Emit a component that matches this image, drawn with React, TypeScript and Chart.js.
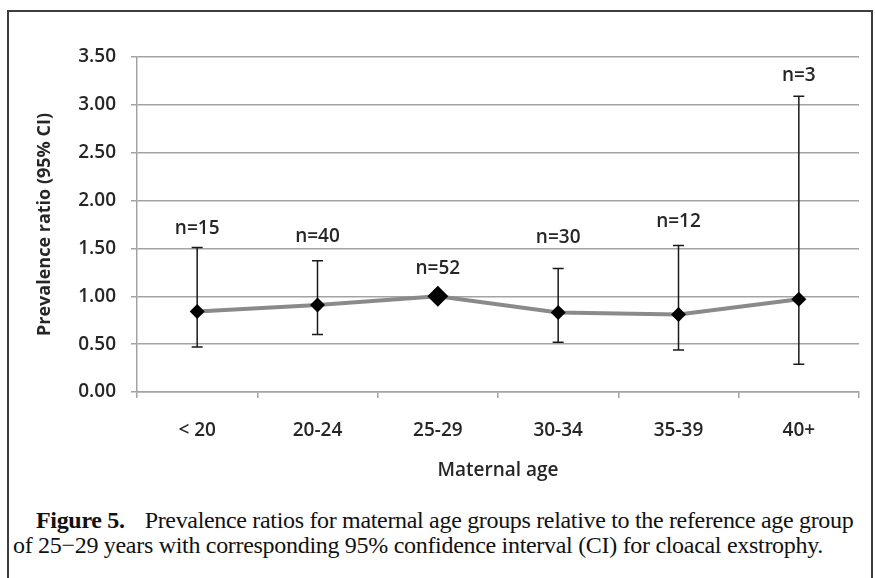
import React, { useEffect, useRef } from 'react';
import { Chart, registerables } from 'chart.js';

Chart.register(...registerables);

const categories = ['< 20', '20-24', '25-29', '30-34', '35-39', '40+'];
const ratios = [0.84, 0.91, 1.0, 0.83, 0.81, 0.97];
const ciLow: (number | null)[] = [0.47, 0.6, null, 0.52, 0.44, 0.29];
const ciHigh: (number | null)[] = [1.51, 1.37, null, 1.29, 1.53, 3.09];
const nLabels = ['n=15', 'n=40', 'n=52', 'n=30', 'n=12', 'n=3'];
const nLabelAt = [1.71, 1.62, 1.29, 1.61, 1.78, 3.31];
const yMin = 0;
const yMax = 3.5;
const yStep = 0.5;

const SANS = '"Open Sans", "Noto Sans", sans-serif';
const TEXT = '#262626';
const GRID = '#a3a3a3';
const W = 600;

const errorBarPlugin = {
  id: 'errorBarsAndLabels',
  beforeDatasetsDraw(chart: any) {
    const { ctx, scales } = chart;
    const x = scales.x;
    const y = scales.y;
    ctx.save();
    ctx.strokeStyle = '#1a1a1a';
    ctx.lineWidth = 1.5;
    categories.forEach((_, i) => {
      const lo = ciLow[i];
      const hi = ciHigh[i];
      if (lo == null || hi == null) return;
      const px = x.getPixelForValue(i);
      const yl = y.getPixelForValue(lo);
      const yh = y.getPixelForValue(hi);
      ctx.beginPath();
      ctx.moveTo(px, yl);
      ctx.lineTo(px, yh);
      ctx.moveTo(px - 5.5, yl);
      ctx.lineTo(px + 5.5, yl);
      ctx.moveTo(px - 5.5, yh);
      ctx.lineTo(px + 5.5, yh);
      ctx.stroke();
    });
    ctx.restore();
  },
  afterDatasetsDraw(chart: any) {
    const { ctx, scales } = chart;
    const x = scales.x;
    const y = scales.y;
    ctx.save();
    ctx.fillStyle = TEXT;
    ctx.font = `${W} 19px ${SANS}`;
    ctx.textAlign = 'center';
    ctx.textBaseline = 'middle';
    nLabels.forEach((t, i) => {
      ctx.fillText(t, x.getPixelForValue(i), y.getPixelForValue(nLabelAt[i]));
    });
    ctx.restore();
  },
};

function Caption() {
  const l1 = useRef<HTMLSpanElement>(null);
  const l2 = useRef<HTMLSpanElement>(null);
  useEffect(() => {
    const fit = (el: HTMLSpanElement | null, target: number) => {
      if (!el) return;
      el.style.letterSpacing = '0px';
      const w = el.getBoundingClientRect().width;
      const n = (el.textContent || '').length;
      el.style.letterSpacing = `${(target - w) / n}px`;
    };
    fit(l1.current, 817);
    fit(l2.current, 810);
  }, []);
  const base: React.CSSProperties = {
    position: 'absolute',
    fontFamily: '"Liberation Serif", "Times New Roman", serif',
    fontSize: 24,
    lineHeight: '24px',
    whiteSpace: 'nowrap',
    color: '#111',
  };
  return (
    <>
      <div style={{ ...base, left: 36, top: 508 }}>
        <span ref={l1} style={{ display: 'inline-block' }}>
          <b>Figure 5.</b>
          <span style={{ display: 'inline-block', width: 20 }}> </span>
          Prevalence ratios for maternal age groups relative to the reference age group
        </span>
      </div>
      <div style={{ ...base, left: 13, top: 533 }}>
        <span ref={l2} style={{ display: 'inline-block' }}>
          of 25−29 years with corresponding 95% confidence interval (CI) for cloacal exstrophy.
        </span>
      </div>
    </>
  );
}

export default function App() {
  const canvasRef = useRef<HTMLCanvasElement>(null);

  useEffect(() => {
    if (!canvasRef.current) return;
    const chart = new Chart(canvasRef.current, {
      type: 'line',
      data: {
        labels: categories,
        datasets: [
          {
            data: ratios,
            borderColor: '#8a8a8a',
            borderWidth: 4,
            pointStyle: 'rectRot',
            pointRadius: [7.5, 7.5, 10.5, 7.5, 7.5, 7.5],
            pointHoverRadius: 8,
            pointBackgroundColor: '#000',
            pointBorderColor: '#000',
            pointBorderWidth: 0,
            tension: 0,
            fill: false,
          },
        ],
      },
      options: {
        responsive: false,
        animation: false,
        events: [],
        layout: { padding: { top: 57, right: 16, bottom: 18, left: 0 } },
        plugins: {
          legend: { display: false },
          tooltip: { enabled: false },
        },
        scales: {
          x: {
            offset: true,
            grid: {
              offset: true,
              drawOnChartArea: false,
              drawTicks: true,
              tickLength: 6,
              color: GRID,
              lineWidth: 1.5,
            },
            border: { color: GRID, width: 1.5 },
            ticks: { padding: 21, color: TEXT, font: { family: SANS, size: 19, weight: W } },
            title: {
              display: true,
              text: 'Maternal age',
              color: TEXT,
              padding: { top: 0, bottom: 0 },
              font: { family: SANS, size: 19, weight: W },
            },
            afterFit: (s: any) => {
              s.height = 90;
            },
          },
          y: {
            min: yMin,
            max: yMax,
            ticks: {
              stepSize: yStep,
              padding: 15,
              color: TEXT,
              font: { family: SANS, size: 19, weight: W },
              callback: (v: any) => Number(v).toFixed(2),
            },
            grid: { color: GRID, lineWidth: 1.5, tickLength: 6, drawTicks: true },
            border: { color: GRID, width: 1.5 },
            title: {
              display: true,
              text: 'Prevalence ratio (95% CI)',
              color: TEXT,
              padding: { top: 34, bottom: 0 },
              font: { family: SANS, size: 18, weight: 'bold' },
            },
            afterFit: (s: any) => {
              s.width = 137;
            },
          },
        },
      } as any,
      plugins: [errorBarPlugin],
    });
    return () => chart.destroy();
  }, []);

  return (
    <div>
      <div
        style={{
          position: 'absolute',
          left: 7,
          top: 10,
          width: 866,
          height: 568,
          boxSizing: 'border-box',
          borderTop: '2px solid #3c3c3c',
          borderLeft: '2px solid #3c3c3c',
          borderRight: '2px solid #3c3c3c',
        }}
      />
      <canvas
        ref={canvasRef}
        width={875}
        height={500}
        style={{ position: 'absolute', left: 0, top: 0, width: 875, height: 500 }}
      />
      <Caption />
    </div>
  );
}
